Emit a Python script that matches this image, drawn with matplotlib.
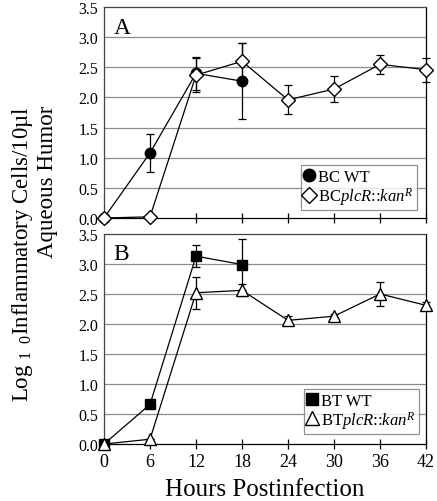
import matplotlib
matplotlib.use('Agg')
import matplotlib.pyplot as plt
from matplotlib.lines import Line2D

plt.rcParams['font.family'] = ['Liberation Serif', 'DejaVu Serif']
plt.rcParams['mathtext.fontset'] = 'custom'
plt.rcParams['mathtext.rm'] = 'Liberation Serif'
plt.rcParams['mathtext.it'] = 'Liberation Serif:italic'

# Data
hours = [0, 6, 12, 18, 24, 30, 36, 42]

bc_wt_hours = [0, 6, 12, 18]
bc_wt = [0.0, 1.08, 2.40, 2.27]
bc_wt_err = [0.0, 0.32, 0.27, 0.63]

bc_plcr = [0.0, 0.02, 2.37, 2.60, 1.96, 2.14, 2.55, 2.46]
bc_plcr_err = [0.0, 0.0, 0.28, 0.30, 0.24, 0.21, 0.16, 0.20]

bt_wt_hours = [0, 6, 12, 18]
bt_wt = [0.0, 0.66, 3.13, 2.99]
bt_wt_err = [0.0, 0.0, 0.18, 0.43]

bt_plcr = [0.0, 0.08, 2.52, 2.56, 2.06, 2.13, 2.50, 2.31]
bt_plcr_err = [0.0, 0.0, 0.27, 0.10, 0.08, 0.04, 0.20, 0.05]

yticks = [0.0, 0.5, 1.0, 1.5, 2.0, 2.5, 3.0, 3.5]

fig = plt.figure(figsize=(4.37, 5.02), dpi=100)
axA = fig.add_axes([0.238, 0.5637, 0.737, 0.4203])
axB = fig.add_axes([0.238, 0.1135, 0.737, 0.4185])

def style(ax, letter, show_xlabels):
    ax.set_xlim(0, 42)
    ax.set_ylim(0, 3.5)
    ax.set_xticks(hours)
    ax.set_yticks(yticks)
    ax.set_yticklabels(['%.1f' % v for v in yticks], fontsize=11.5)
    for v in yticks[1:-1]:
        ax.axhline(v, color='#8c8c8c', lw=0.9, zorder=0)
    ax.tick_params(axis='y', length=0, pad=4)
    ax.tick_params(axis='x', direction='inout', length=7, width=0.9,
                   labelsize=13, pad=3, labelbottom=show_xlabels)
    for s in ax.spines.values():
        s.set_linewidth(0.9)
    ax.spines['left'].set_color('#444444')
    ax.spines['top'].set_color('#444444')
    ax.text(0.03, 0.955, letter, transform=ax.transAxes, fontsize=17,
            va='top', ha='left')

def legend(ax, handles, labels, anchor):
    leg = ax.legend(handles, labels, loc='lower right', bbox_to_anchor=anchor,
                    fontsize=12, frameon=True, fancybox=False,
                    handlelength=0.6, handletextpad=0.25, borderpad=0.2,
                    labelspacing=0.0, borderaxespad=0)
    leg.get_frame().set_edgecolor('#777777')
    leg.get_frame().set_linewidth(0.9)

# Panel A
axA.errorbar(bc_wt_hours, bc_wt, yerr=bc_wt_err, fmt='-o', color='black',
             mfc='black', mec='black', ms=7.5, lw=0.9, elinewidth=0.9,
             capsize=3, capthick=0.9, zorder=3, clip_on=False)
axA.errorbar(hours, bc_plcr, yerr=bc_plcr_err, fmt='-D', color='black',
             mfc='white', mec='black', ms=7, lw=0.9, elinewidth=0.9,
             capsize=3, capthick=0.9, zorder=4, clip_on=False)
style(axA, 'A', False)
legend(axA,
       [Line2D([], [], ls='none', marker='o', ms=9, mfc='black', mec='black'),
        Line2D([], [], ls='none', marker='D', ms=8, mfc='white', mec='black')],
       ['BC WT', r'BC$\it{plcR}$::$\it{kan}^{R}$'], (0.972, 0.038))

# Panel B
axB.errorbar(bt_wt_hours, bt_wt, yerr=bt_wt_err, fmt='-s', color='black',
             mfc='black', mec='black', ms=7, lw=0.9, elinewidth=0.9,
             capsize=3, capthick=0.9, zorder=3, clip_on=False)
axB.errorbar(hours, bt_plcr, yerr=bt_plcr_err, fmt='-^', color='black',
             mfc='white', mec='black', ms=8.5, lw=0.9, elinewidth=0.9,
             capsize=3, capthick=0.9, zorder=4, clip_on=False)
style(axB, 'B', True)
legend(axB,
       [Line2D([], [], ls='none', marker='s', ms=8, mfc='black', mec='black'),
        Line2D([], [], ls='none', marker='^', ms=10, mfc='white', mec='black')],
       ['BT WT', r'BT$\it{plcR}$::$\it{kan}^{R}$'], (0.978, 0.048))

fig.text(265 / 437, 1 - 496 / 502, 'Hours Postinfection', fontsize=18,
         ha='center', va='baseline')

fig.text(23 / 437, 1 - 254 / 502, r'Log $_{1\ \ 0}$Inflammatory Cells/10µl',
         rotation=90, fontsize=16.5, ha='center', va='center')
fig.text(48 / 437, 1 - 182 / 502, 'Aqueous Humor',
         rotation=90, fontsize=16.5, ha='center', va='center')

fig.savefig('out.png', dpi=100)
